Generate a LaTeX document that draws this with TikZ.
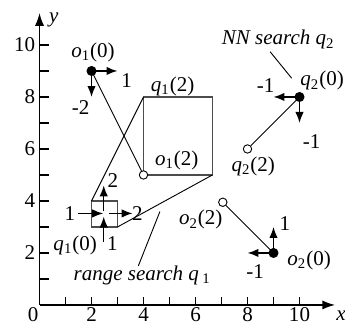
\documentclass[tikz,border=0pt]{standalone}
\usepackage{fontspec}
\setmainfont{Liberation Serif}
\newfontfamily\labfont{Liberation Serif}
\usetikzlibrary{arrows.meta}
\newcommand\lbl[3]{\textit{#1}\textsubscript{#2}(#3)}
\begin{document}
\begin{tikzpicture}[x=0.5cm,y=0.5cm,
  font=\labfont\fontsize{11.5}{13}\selectfont,
  axis/.style={line width=0.8pt,-{Latex[length=7pt,width=5pt]}},
  tick/.style={line width=0.6pt},
  vec/.style={line width=0.8pt,-{Latex[length=6pt,width=4.6pt]}},
  conn/.style={line width=0.5pt},
  boxline/.style={line width=0.7pt,draw=black!70},
  dot/.style={circle,fill=black,inner sep=0pt,minimum size=5.5pt},
  hollow/.style={circle,draw=black,fill=white,line width=0.5pt,inner sep=0pt,minimum size=4.6pt},
  txt/.style={inner sep=1pt},
  axlab/.style={inner sep=0pt}]
\useasboundingbox (-1.52,-0.76) rectangle (11.75,11.73);
% axes
\coordinate (O) at (0,0);
\coordinate (xend) at (11.37,0);
\coordinate (yend) at (0,11.23);
\draw[axis] (O) -- (xend);
\draw[axis] (O) -- (yend);
\foreach \i in {1,...,10} {
  \draw[tick] (\i,0) -- (\i,0.3);
  \draw[tick] (0,\i) -- (0.38,\i);
}
\foreach \i in {2,4,...,10} {
  \node[axlab] (xl\i) at (\i,-0.38) {\i};
  \node[axlab,anchor=east] (yl\i) at (-0.15,\i) {\i};
}
\node[axlab] (xl0) at (-0.25,-0.38) {0};
\node[axlab] (xlab) at (11.6,-0.42) {\textit{x}};
\node[txt] (ylab) at (0.55,10.96) {\textit{y}};

% boxes of q1
\coordinate (b0a) at (2,3); \coordinate (b0b) at (3,4);
\coordinate (b0tl) at (2,4); \coordinate (b0br) at (3,3);
\coordinate (b2a) at (4,5); \coordinate (b2b) at (6.65,8);
\coordinate (b2tl) at (4,8); \coordinate (b2br) at (6.65,5);
\draw[boxline] (b0a) rectangle (b0b);
\draw[boxline] (b2a) rectangle (b2b);
\draw[conn] (b0tl) -- (b2tl);
\draw[conn] (b0br) -- (b2br);

% small box arrows
\coordinate (aLs) at (1.49,3.52); \coordinate (aLe) at (2.45,3.52);
\coordinate (aRs) at (2.68,3.52); \coordinate (aRe) at (3.58,3.52);
\coordinate (aUs) at (2.47,3.6); \coordinate (aUe) at (2.47,4.6);
\coordinate (aBs) at (2.47,2.42); \coordinate (aBe) at (2.47,3.4);
\draw[vec] (aLs) -- (aLe);
\draw[vec] (aRs) -- (aRe);
\draw[vec] (aUs) -- (aUe);
\draw[vec] (aBs) -- (aBe);
\node[txt] (nL) at (1.17,3.53) {1};
\node[txt] (nR) at (3.76,3.53) {2};
\node[txt] (nU) at (2.82,4.78) {2};
\node[txt] (nB) at (2.8,2.38) {1};
\node[txt] (q10) at (1.37,2.3) {\lbl{q}{1}{0}};
\node[txt] (q12) at (5.12,8.4) {\lbl{q}{1}{2}};

% range search label
\node[txt] (rs) at (3.95,1.15) {\textit{range search q}\,\textsubscript{1}};
\coordinate (rsa) at (4.63,3.59); \coordinate (rsb) at (3.8,1.5);
\draw[conn] (rsa) -- (rsb);

% o1
\node[dot] (o10) at (2,9) {};
\node[hollow] (o12) at (4,5) {};
\draw[conn] (o10.center) -- (o12);
\coordinate (o1r) at (3,9); \coordinate (o1d) at (2,8);
\draw[vec] (o10.center) -- (o1r);
\draw[vec] (o10.center) -- (o1d);
\node[txt] (o10l) at (2.06,9.72) {\lbl{o}{1}{0}};
\node[txt] (o1rl) at (3.35,8.65) {1};
\node[txt] (o1dl) at (1.58,7.58) {-2};
\node[txt] (o12l) at (5.28,5.56) {\lbl{o}{1}{2}};

% q2
\node[dot] (q20) at (10,8) {};
\node[hollow] (q22) at (8,6) {};
\draw[conn] (q20.center) -- (q22);
\coordinate (q2l) at (9,8); \coordinate (q2d) at (10,7);
\draw[vec] (q20.center) -- (q2l);
\draw[vec] (q20.center) -- (q2d);
\node[txt] (q20l) at (10.87,8.62) {\lbl{q}{2}{0}};
\node[txt] (q2ll) at (8.7,8.42) {-1};
\node[txt] (q2dl) at (10.47,6.28) {-1};
\node[txt] (q22l) at (8.22,5.32) {\lbl{q}{2}{2}};
\node[txt] (nn) at (9.18,10.2) {\textit{NN search q}\textsubscript{2}};
\coordinate (nna) at (8.87,9.74); \coordinate (nnb) at (9.7,8.72);
\draw[conn] (nna) -- (nnb);

% o2
\node[dot] (o20) at (9,2) {};
\node[hollow] (o22) at (7.05,3.95) {};
\draw[conn] (o20.center) -- (o22);
\coordinate (o2u) at (9,3); \coordinate (o2l) at (8,2);
\draw[vec] (o20.center) -- (o2u);
\draw[vec] (o20.center) -- (o2l);
\node[txt] (o20l) at (10.37,1.73) {\lbl{o}{2}{0}};
\node[txt] (o2ul) at (9.44,3.14) {1};
\node[txt] (o2ll) at (8.29,1.28) {-1};
\node[txt] (o22l) at (6.2,3.27) {\lbl{o}{2}{2}};
\end{tikzpicture}
\end{document}
